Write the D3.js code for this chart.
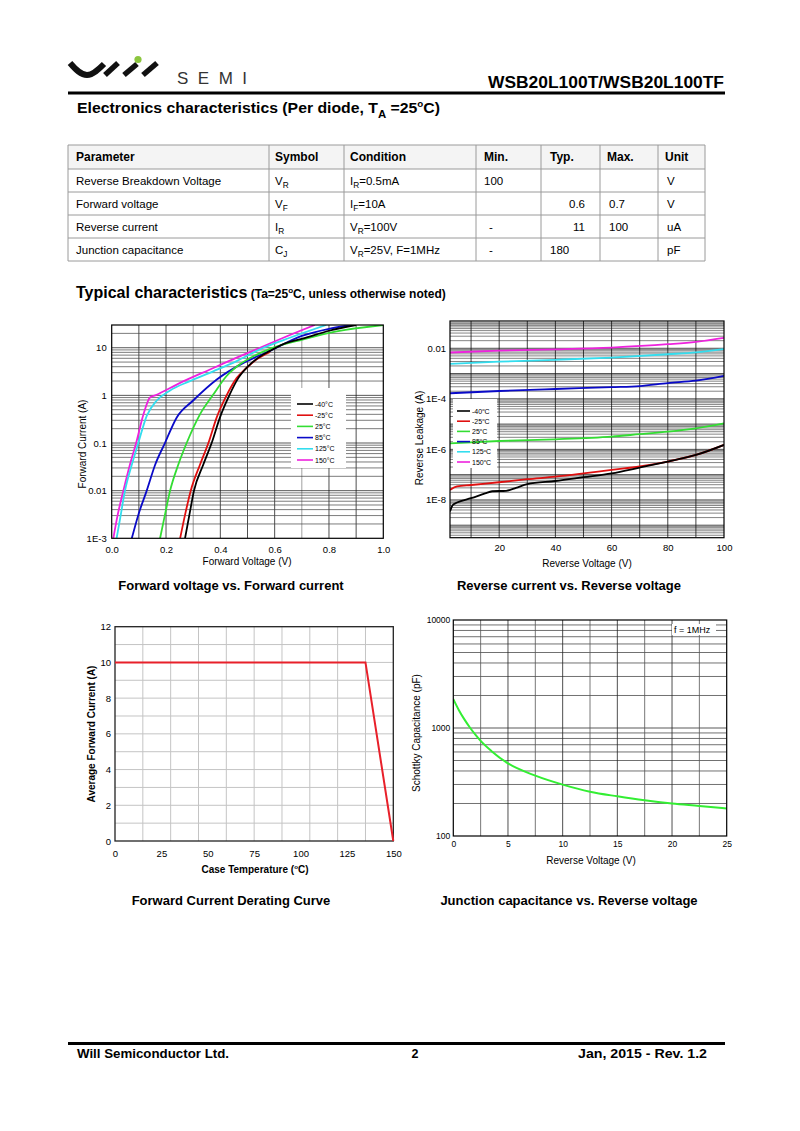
<!DOCTYPE html>
<html><head><meta charset="utf-8">
<script src="https://cdn.jsdelivr.net/npm/d3@7"></script>
<style>body{margin:0;background:#fff}svg{display:block}</style>
</head><body><svg id="page" width="800" height="1131"></svg>
<script>
// ---------------- DATA ----------------
const tableHeaders = ["Parameter","Symbol","Condition","Min.","Typ.","Max.","Unit"];
const tableParams = ["Reverse Breakdown Voltage","Forward voltage","Reverse current","Junction capacitance"];
const tableSymbols = [["V","R"],["V","F"],["I","R"],["C","J"]];
const tableConditions = [["I","R","=0.5mA"],["I","F","=10A"],["V","R","=100V"],["V","R","=25V, F=1MHz"]];
const tableMin = ["100","","-","-"];
const tableTyp = ["","0.6","11","180"];
const tableMax = ["","0.7","100",""];
const tableUnit = ["V","V","uA","pF"];

// Forward voltage vs forward current: [V, A]
const fwdLabels = ["-40°C","-25°C","25°C","85°C","125°C","150°C"];
const fwdM40 = [[0.27,0.001],[0.286,0.0031],[0.303,0.01],[0.337,0.035],[0.368,0.1],[0.399,0.35],[0.433,1],[0.466,2.3],[0.503,4.1],[0.54,6.2],[0.583,8.6],[0.632,11.9],[0.706,15.7],[0.804,23],[0.9,30]];
const fwdM25 = [[0.252,0.001],[0.27,0.0031],[0.291,0.01],[0.325,0.035],[0.356,0.1],[0.387,0.35],[0.423,1],[0.46,2.3],[0.497,3.8],[0.534,5.7],[0.583,8.2]];
const fwd25 = [[0.178,0.001],[0.196,0.0031],[0.215,0.01],[0.245,0.035],[0.276,0.1],[0.325,0.4],[0.374,1.04],[0.423,2.55],[0.472,4.5],[0.521,6.6],[0.583,9.5],[0.706,15],[0.828,22],[1.0,30]];
const fwd85 = [[0.074,0.001],[0.098,0.0031],[0.129,0.01],[0.16,0.035],[0.196,0.1],[0.239,0.34],[0.3,0.78],[0.387,2.15],[0.485,4.8],[0.583,8.6],[0.7,17.7],[0.8,25],[0.88,30]];
const fwd125 = [[0.018,0.001],[0.031,0.0026],[0.049,0.01],[0.074,0.035],[0.098,0.1],[0.129,0.37],[0.166,0.78],[0.215,1.27],[0.288,1.99],[0.374,3.2],[0.46,5.25],[0.558,10],[0.656,16.2],[0.79,30]];
const fwd150 = [[0.006,0.001],[0.022,0.0031],[0.043,0.01],[0.067,0.035],[0.09,0.1],[0.117,0.4],[0.141,0.9],[0.16,1.0],[0.252,1.83],[0.362,3.5],[0.46,6.2],[0.546,10],[0.632,16.2],[0.748,30]];
const fwdXTicks = [0,0.2,0.4,0.6,0.8,1.0];
const fwdXTickLabels = ["0.0","0.2","0.4","0.6","0.8","1.0"];
const fwdYTicks = [0.001,0.01,0.1,1,10];
const fwdYTickLabels = ["1E-3","0.01","0.1","1","10"];

// Reverse voltage vs reverse leakage: [V, A]
const revLabels = ["-40","-25","25","85","125","150"];
const revM40 = [[2.5,3.5e-9],[3.5,6.3e-9],[5,7.9e-9],[10,1.17e-8],[15,1.8e-8],[17.5,2.2e-8],[22.5,2.3e-8],[26,3.0e-8],[30,4.2e-8],[40,5.6e-8],[50,7.9e-8],[60,1.12e-7],[70,1.9e-7],[80,3.3e-7],[90,6.0e-7],[100,1.5e-6]];
const revM25 = [[2.5,2.5e-8],[5,3.4e-8],[10,3.9e-8],[20,5.0e-8],[30,6.6e-8],[40,8.3e-8],[50,1.12e-7],[60,1.55e-7],[70,2.1e-7],[80,3.3e-7],[90,6.0e-7],[100,1.5e-6]];
const rev25 = [[2.5,1.74e-6],[20,2.14e-6],[40,2.5e-6],[60,3.2e-6],[70,4.0e-6],[80,5.0e-6],[90,6.8e-6],[100,1.07e-5]];
const rev85 = [[2.5,1.66e-4],[20,2.04e-4],[40,2.45e-4],[60,2.9e-4],[70,3.2e-4],[80,4.2e-4],[90,5.2e-4],[100,8.1e-4]];
const rev125 = [[2.5,2.4e-3],[20,2.95e-3],[40,3.5e-3],[60,4.3e-3],[80,5.8e-3],[90,6.9e-3],[100,9.3e-3]];
const rev150 = [[2.5,6.8e-3],[20,8.1e-3],[40,9.1e-3],[60,0.0107],[80,0.0145],[90,0.018],[100,0.026]];
const revXTicks = [20,40,60,80,100];
const revYTicks = [1e-8,1e-6,1e-4,0.01];
const revYTickLabels = ["1E-8","1E-6","1E-4","0.01"];

// Derating curve: case temperature (°C) vs average forward current (A)
const derateTemp = [0,135,150];
const derateCurrent = [10,10,0];
const derateXTicks = [0,25,50,75,100,125,150];
const derateYTicks = [0,2,4,6,8,10,12];

// Junction capacitance: reverse voltage (V) vs capacitance (pF)
const capVoltage = [0,0.5,1,1.5,2,2.5,3.5,5,7.5,10,12.5,15,17.5,20,22.5,25];
const capPF = [1850,1470,1208,1016,871,759,610,470,362,299,257,233,214,200,190,180];
const capXTicks = [0,5,10,15,20,25];
const capYTicks = [100,1000,10000];

// ---------------- HELPERS ----------------
const F = "'Liberation Sans', Arial, Helvetica, sans-serif";
const svg = d3.select("#page");
svg.append("rect").attr("width",800).attr("height",1131).attr("fill","#fff");

function addText(parent, x, y, parts, o = {}) {
  const size = o.size || 10;
  const t = parent.append("text").attr("x", x).attr("y", y)
    .attr("font-family", F).attr("font-size", size)
    .attr("font-weight", o.bold ? "bold" : "normal")
    .attr("text-anchor", o.anchor || "start").attr("fill", o.fill || "#000");
  if (o.rotate) t.attr("transform", `rotate(${o.rotate},${x},${y})`);
  if (o.len) t.attr("textLength", o.len).attr("lengthAdjust", o.adjust || "spacingAndGlyphs");
  if (o.ls) t.attr("letter-spacing", o.ls);
  let cur = 0;
  (Array.isArray(parts) ? parts : [parts]).forEach(p => {
    let target = 0, str = p, fs = null;
    if (typeof p === "object") {
      if (p.sub !== undefined) { target = size * 0.3; str = p.sub; fs = size * 0.72; }
      if (p.sup !== undefined) { target = -size * 0.38; str = p.sup; fs = size * 0.62; }
    }
    const ts = t.append("tspan").text(str);
    if (target - cur !== 0) ts.attr("dy", target - cur);
    if (fs) ts.attr("font-size", fs);
    cur = target;
  });
  return t;
}

function logGridValues(lo, hi) {
  const out = [];
  for (let d = Math.floor(Math.log10(lo)); d <= Math.ceil(Math.log10(hi)); d++) {
    for (let k = 1; k <= 9; k++) {
      const v = k * Math.pow(10, d);
      if (v > lo * 1.0001 && v < hi * 0.9999) out.push({v, major: k === 1});
    }
  }
  return out;
}

let clipId = 0;
function makeClip(g, x0, y0, w, h) {
  const id = "clip" + (clipId++);
  g.append("clipPath").attr("id", id).append("rect").attr("x", x0).attr("y", y0).attr("width", w).attr("height", h);
  return `url(#${id})`;
}

function styleAxis(ax, size) {
  ax.select(".domain").remove();
  ax.selectAll("line").remove();
  ax.selectAll("text").attr("font-family", F).attr("font-size", size).attr("fill", "#000");
}

// ---------------- HEADER ----------------
const logo = svg.append("g").attr("fill", "none").attr("stroke", "#111").attr("stroke-linecap", "butt");
logo.append("path").attr("d", "M70,63 C76,70 81,75 87,75 C93,75 99,69 104,64").attr("stroke-width", 6);
logo.append("path").attr("d", "M105,75 L118,63").attr("stroke-width", 5.5);
logo.append("path").attr("d", "M124,75 L137,64").attr("stroke-width", 5.5);
logo.append("path").attr("d", "M143,75 L157,63").attr("stroke-width", 5.5);
logo.append("circle").attr("cx", 138).attr("cy", 59.5).attr("r", 3.6).attr("fill", "#8cc63f").attr("stroke", "none");
addText(svg, 177, 84, "SEMI", {size: 17, fill: "#333", len: 70, adjust: "spacing"});

addText(svg, 724, 88, "WSB20L100T/WSB20L100TF", {size: 16, bold: true, anchor: "end", len: 236});
svg.append("rect").attr("x", 68).attr("y", 91.5).attr("width", 657).attr("height", 3).attr("fill", "#000");

addText(svg, 77, 113, ["Electronics characteristics (Per diode, T", {sub: "A"}, " =25", {sup: "o"}, "C)"], {size: 15.5, bold: true, len: 363});

// ---------------- TABLE ----------------
const colX = [68, 269, 344, 476, 541, 600, 658, 705];
const rowY = [145, 169, 192, 215, 238, 261];
const tbl = svg.append("g");
tbl.append("rect").attr("x", colX[0]).attr("y", rowY[0]).attr("width", colX[7] - colX[0]).attr("height", rowY[1] - rowY[0]).attr("fill", "#f4f4f4");
rowY.forEach(y => tbl.append("line").attr("x1", colX[0]).attr("x2", colX[7]).attr("y1", y).attr("y2", y).attr("stroke", "#9a9a9a").attr("stroke-width", 1));
colX.forEach(x => tbl.append("line").attr("x1", x).attr("x2", x).attr("y1", rowY[0]).attr("y2", rowY[5]).attr("stroke", "#9a9a9a").attr("stroke-width", 1));
const hdrX = [76, 275, 350, 484, 550, 607, 665];
tableHeaders.forEach((h, i) => addText(tbl, hdrX[i], 161, h, {size: 12, bold: true}));
for (let r = 0; r < 4; r++) {
  const by = rowY[r + 1] + 16;
  addText(tbl, 76, by, tableParams[r], {size: 11.5});
  addText(tbl, 275, by, [tableSymbols[r][0], {sub: tableSymbols[r][1]}], {size: 11.5});
  addText(tbl, 350, by, [tableConditions[r][0], {sub: tableConditions[r][1]}, tableConditions[r][2]], {size: 11.5});
  if (tableMin[r] === "-") addText(tbl, 491, by, "-", {size: 11.5, anchor: "middle"});
  else if (tableMin[r]) addText(tbl, 484, by, tableMin[r], {size: 11.5});
  if (tableTyp[r] === "180") addText(tbl, 550, by, tableTyp[r], {size: 11.5});
  else if (tableTyp[r]) addText(tbl, 585, by, tableTyp[r], {size: 11.5, anchor: "end"});
  if (tableMax[r]) addText(tbl, 609, by, tableMax[r], {size: 11.5});
  addText(tbl, 667, by, tableUnit[r], {size: 11.5});
}

// ---------------- SECTION TITLE ----------------
const ttl = addText(svg, 76, 298, "Typical characteristics", {size: 16, bold: true});
ttl.append("tspan").attr("font-size", 12).text(" (Ta=25");
ttl.append("tspan").attr("font-size", 8).attr("dy", -5).text("o");
ttl.append("tspan").attr("font-size", 12).attr("dy", 5).text("C, unless otherwise noted)");

// ---------------- CHART 1: forward ----------------
(function () {
  const L = 111.7, R = 383.3, T = 325, B = 538.3;
  const x = d3.scaleLinear().domain([0, 1]).range([L, R]);
  const y = d3.scaleLog().domain([1e-3, 30]).range([B, T]);
  const g = svg.append("g");
  const clip = makeClip(g, L, T, R - L, B - T);
  const grid = g.append("g").attr("clip-path", clip);
  d3.range(1, 10).forEach(i => grid.append("line").attr("x1", x(i / 10)).attr("x2", x(i / 10)).attr("y1", T).attr("y2", B)
    .attr("stroke", (i === 3 || i === 7) ? "#888" : "#222").attr("stroke-width", 0.8));
  logGridValues(1e-3, 30).forEach(d => grid.append("line").attr("x1", L).attr("x2", R).attr("y1", y(d.v)).attr("y2", y(d.v))
    .attr("stroke", d.major ? "#111" : "#444").attr("stroke-width", 0.7));
  // legend box
  g.append("rect").attr("x", 291).attr("y", 388).attr("width", 55).attr("height", 80).attr("fill", "#fff");
  const series = [fwd150, fwd125, fwd85, fwd25, fwdM25, fwdM40];
  const cols = ["#ee22dd", "#33ddee", "#0a0ac8", "#33dd33", "#e01010", "#000"];
  const line = d3.line().x(d => x(d[0])).y(d => y(d[1])).curve(d3.curveMonotoneX);
  const lines = g.append("g").attr("clip-path", clip);
  series.forEach((s, i) => lines.append("path").attr("d", line(s)).attr("fill", "none").attr("stroke", cols[i]).attr("stroke-width", 1.8));
  g.append("rect").attr("x", L).attr("y", T).attr("width", R - L).attr("height", B - T).attr("fill", "none").attr("stroke", "#000").attr("stroke-width", 1.2);
  const legCols = ["#000", "#e01010", "#33dd33", "#0a0ac8", "#33ddee", "#ee22dd"];
  fwdLabels.forEach((lab, i) => {
    const yy = 404 + i * 11.2;
    g.append("line").attr("x1", 297).attr("x2", 313).attr("y1", yy).attr("y2", yy).attr("stroke", legCols[i]).attr("stroke-width", 1.6);
    addText(g, 315, yy + 2.5, lab, {size: 7});
  });
  const ax = g.append("g").attr("transform", `translate(0,${B})`)
    .call(d3.axisBottom(x).tickValues(fwdXTicks).tickFormat((d, i) => fwdXTickLabels[i]).tickSize(0).tickPadding(8));
  styleAxis(ax, 9.5);
  const ay = g.append("g").attr("transform", `translate(${L},0)`)
    .call(d3.axisLeft(y).tickValues(fwdYTicks).tickFormat((d, i) => fwdYTickLabels[i]).tickSize(0).tickPadding(5));
  styleAxis(ay, 9.5);
  addText(g, 247, 565, "Forward Voltage (V)", {size: 10, anchor: "middle"});
  addText(g, 86, 444, "Forward Current (A)", {size: 10, anchor: "middle", rotate: -90});
  addText(svg, 231, 590, "Forward voltage vs. Forward current", {size: 13, bold: true, anchor: "middle"});
})();

// ---------------- CHART 2: reverse ----------------
(function () {
  const L = 450, R = 724, T = 321, B = 537.7;
  const x = d3.scaleLinear().domain([2.5, 100]).range([L, R]);
  const y = d3.scaleLog().domain([3.2e-10, 0.12]).range([B, T]);
  const g = svg.append("g");
  const clip = makeClip(g, L, T, R - L, B - T);
  const grid = g.append("g").attr("clip-path", clip);
  logGridValues(3.2e-10, 0.12).forEach(d => grid.append("line").attr("x1", L).attr("x2", R).attr("y1", y(d.v)).attr("y2", y(d.v))
    .attr("stroke", d.major ? "#222" : "#666").attr("stroke-width", 0.8));
  d3.range(10, 100, 10).forEach(v => grid.append("line").attr("x1", x(v)).attr("x2", x(v)).attr("y1", T).attr("y2", B)
    .attr("stroke", "#111").attr("stroke-width", 0.8));
  g.append("rect").attr("x", 453).attr("y", 399).attr("width", 44).attr("height", 69).attr("fill", "#fff");
  const series = [revM25, revM40, rev25, rev85, rev125, rev150];
  const cols = ["#e01010", "#000", "#33dd33", "#0a0ac8", "#33ddee", "#ee22dd"];
  const line = d3.line().x(d => x(d[0])).y(d => y(d[1])).curve(d3.curveMonotoneX);
  const lines = g.append("g").attr("clip-path", clip);
  series.forEach((s, i) => lines.append("path").attr("d", line(s)).attr("fill", "none").attr("stroke", cols[i]).attr("stroke-width", 1.8));
  g.append("rect").attr("x", L).attr("y", T).attr("width", R - L).attr("height", B - T).attr("fill", "none").attr("stroke", "#000").attr("stroke-width", 1.2);
  const legCols = ["#000", "#e01010", "#33dd33", "#0a0ac8", "#33ddee", "#ee22dd"];
  revLabels.forEach((lab, i) => {
    const yy = 411 + i * 10.2;
    g.append("line").attr("x1", 457).attr("x2", 470).attr("y1", yy).attr("y2", yy).attr("stroke", legCols[i]).attr("stroke-width", 1.6);
    addText(g, 472, yy + 2.5, [lab, {sup: "o"}, "C"], {size: 7});
  });
  const ax = g.append("g").attr("transform", `translate(0,${B})`)
    .call(d3.axisBottom(x).tickValues(revXTicks).tickFormat(d3.format("d")).tickSize(0).tickPadding(7));
  styleAxis(ax, 9.5);
  const ay = g.append("g").attr("transform", `translate(${L},0)`)
    .call(d3.axisLeft(y).tickValues(revYTicks).tickFormat((d, i) => revYTickLabels[i]).tickSize(0).tickPadding(4));
  styleAxis(ay, 9.5);
  addText(g, 587, 567, "Reverse Voltage (V)", {size: 10, anchor: "middle"});
  addText(g, 423, 438, "Reverse Leakage (A)", {size: 10, anchor: "middle", rotate: -90});
  addText(svg, 569, 590, "Reverse current vs. Reverse voltage", {size: 13, bold: true, anchor: "middle"});
})();

// ---------------- CHART 3: derating ----------------
(function () {
  const L = 115, R = 393.3, T = 626.7, B = 841;
  const x = d3.scaleLinear().domain([0, 150]).range([L, R]);
  const y = d3.scaleLinear().domain([0, 12]).range([B, T]);
  const g = svg.append("g");
  d3.range(15, 150, 15).forEach(v => g.append("line").attr("x1", x(v)).attr("x2", x(v)).attr("y1", T).attr("y2", B).attr("stroke", "#c4c4c4").attr("stroke-width", 1));
  d3.range(1, 12).forEach(v => g.append("line").attr("x1", L).attr("x2", R).attr("y1", y(v)).attr("y2", y(v)).attr("stroke", "#c4c4c4").attr("stroke-width", 1));
  g.append("rect").attr("x", L).attr("y", T).attr("width", R - L).attr("height", B - T).attr("fill", "none").attr("stroke", "#222").attr("stroke-width", 1.3);
  const pts = derateTemp.map((t, i) => [t, derateCurrent[i]]);
  g.append("path").attr("d", d3.line().x(d => x(d[0])).y(d => y(d[1]))(pts)).attr("fill", "none").attr("stroke", "#e8202a").attr("stroke-width", 2);
  const ax = g.append("g").attr("transform", `translate(0,${B})`)
    .call(d3.axisBottom(x).tickValues(derateXTicks).tickFormat(d3.format("d")).tickSize(0).tickPadding(9));
  styleAxis(ax, 9.5);
  const ay = g.append("g").attr("transform", `translate(${L},0)`)
    .call(d3.axisLeft(y).tickValues(derateYTicks).tickFormat(d3.format("d")).tickSize(0).tickPadding(4));
  styleAxis(ay, 9.5);
  addText(g, 255, 873, ["Case Temperature (", {sup: "o"}, "C)"], {size: 10, bold: true, anchor: "middle"});
  addText(g, 95, 734, "Average Forward Current (A)", {size: 10, bold: true, anchor: "middle", rotate: -90});
  addText(svg, 231, 905, "Forward Current Derating Curve", {size: 13, bold: true, anchor: "middle"});
})();

// ---------------- CHART 4: capacitance ----------------
(function () {
  const L = 453.3, R = 726.7, T = 620, B = 836;
  const x = d3.scaleLinear().domain([0, 25]).range([L, R]);
  const y = d3.scaleLog().domain([100, 10000]).range([B, T]);
  const g = svg.append("g");
  const clip = makeClip(g, L, T, R - L, B - T);
  const grid = g.append("g").attr("clip-path", clip);
  logGridValues(100, 10000).forEach(d => grid.append("line").attr("x1", L).attr("x2", R).attr("y1", y(d.v)).attr("y2", y(d.v))
    .attr("stroke", d.major ? "#111" : "#333").attr("stroke-width", 0.7));
  d3.range(2.5, 25, 2.5).forEach((v, i) => grid.append("line").attr("x1", x(v)).attr("x2", x(v)).attr("y1", T).attr("y2", B)
    .attr("stroke", (i % 2 === 0) ? "#555" : "#222").attr("stroke-width", 0.8));
  g.append("rect").attr("x", 672).attr("y", 624).attr("width", 44).attr("height", 11).attr("fill", "#fff");
  addText(g, 674, 633, "f = 1MHz", {size: 9});
  const pts = capVoltage.map((v, i) => [v, capPF[i]]);
  g.append("g").attr("clip-path", clip).append("path")
    .attr("d", d3.line().x(d => x(d[0])).y(d => y(d[1])).curve(d3.curveMonotoneX)(pts))
    .attr("fill", "none").attr("stroke", "#33ee33").attr("stroke-width", 2);
  g.append("rect").attr("x", L).attr("y", T).attr("width", R - L).attr("height", B - T).attr("fill", "none").attr("stroke", "#000").attr("stroke-width", 1.2);
  const ax = g.append("g").attr("transform", `translate(0,${B})`)
    .call(d3.axisBottom(x).tickValues(capXTicks).tickFormat(d3.format("d")).tickSize(0).tickPadding(5));
  styleAxis(ax, 8.5);
  const ay = g.append("g").attr("transform", `translate(${L},0)`)
    .call(d3.axisLeft(y).tickValues(capYTicks).tickFormat(d3.format("d")).tickSize(0).tickPadding(3));
  styleAxis(ay, 8.5);
  addText(g, 591, 864, "Reverse Voltage (V)", {size: 10, anchor: "middle"});
  addText(g, 420, 733, "Schottky Capacitance (pF)", {size: 10, anchor: "middle", rotate: -90});
  addText(svg, 569, 905, "Junction capacitance vs. Reverse voltage", {size: 13, bold: true, anchor: "middle"});
})();

// ---------------- FOOTER ----------------
svg.append("rect").attr("x", 68).attr("y", 1042).attr("width", 657).attr("height", 3).attr("fill", "#000");
addText(svg, 77, 1058, "Will Semiconductor Ltd.", {size: 12.5, bold: true, len: 152});
addText(svg, 415, 1058, "2", {size: 12.5, bold: true, anchor: "middle"});
addText(svg, 707, 1058, "Jan, 2015 - Rev. 1.2", {size: 12.5, bold: true, anchor: "end", len: 129});
</script>
</body></html>
